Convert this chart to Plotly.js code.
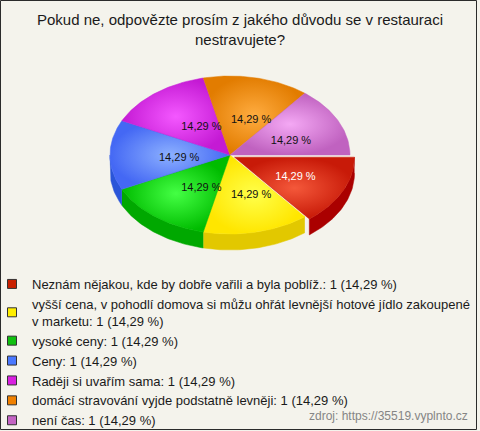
<!DOCTYPE html>
<html><head><meta charset="utf-8">
<script src="https://cdn.plot.ly/plotly-3.0.1.min.js"></script>
<style>html,body{margin:0;padding:0;background:#f4f3ec}</style>
</head><body><div id="chart" style="width:480px;height:431px"></div>
<script>
// ---- data ----
const labels = [
  "Neznám nějakou, kde by dobře vařili a byla poblíž.",
  "vyšší cena, v pohodlí domova si můžu ohřát levnější hotové jídlo zakoupené v marketu",
  "vysoké ceny",
  "Ceny",
  "Raději si uvařím sama",
  "domácí stravování vyjde podstatně levněji",
  "není čas"
];
const values = [1, 1, 1, 1, 1, 1, 1];
const titleText = "Pokud ne, odpovězte prosím z jakého důvodu se v restauraci<br>nestravujete?";
const sourceText = "zdroj: https://35519.vyplnto.cz";

// ---- styles ----
const topDark  = ["#c81a08", "#ffe600", "#00bc00", "#4468f4", "#c41ad4", "#e27c00", "#c062c0"];
const topLight = ["#f4583a", "#ffff4a", "#44ff44", "#8cb0ff", "#f458ff", "#ffac40", "#f4a8f4"];
const sideCols = ["#aa0000", "#e2c800", "#00a800", "#2a55d8", "#a010b0", "#b86000", "#9a4a9a"];
const legendCols = ["#c82000", "#ffee00", "#10c010", "#4a78ff", "#d820e0", "#f08000", "#c464c4"];
const labelTextCols = ["#ffffff", "#111", "#111", "#111", "#111", "#111", "#111"];
const explodePx = [5, 0, 0, 0, 0, 0, 0];

// ---- geometry (pixel-like axes) ----
const cx = 230, cy = 155, rx = 120, ry = 79, depth = 16;
const total = values.reduce((a, b) => a + b, 0);
const slices = [];
let acc = 0;
values.forEach((v, i) => {
  const a0 = acc / total * 2 * Math.PI;
  acc += v;
  const a1 = acc / total * 2 * Math.PI;
  const m = (a0 + a1) / 2;
  slices.push({a0, a1, m, dx: explodePx[i] * Math.cos(m), dy: explodePx[i] * Math.sin(m)});
});

function arc(a0, a1, ox, oy, shift) {
  const n = Math.max(2, Math.ceil((a1 - a0) / (Math.PI / 180)));
  const xs = [], ys = [];
  for (let k = 0; k <= n; k++) {
    const a = a0 + (a1 - a0) * k / n;
    xs.push(cx + ox + rx * Math.cos(a));
    ys.push(cy + oy + ry * Math.sin(a) + shift);
  }
  return {xs, ys};
}

const traces = [];
// side walls (front half only)
slices.forEach((s, i) => {
  const st = Math.max(s.a0, 0), en = Math.min(s.a1, Math.PI);
  if (en <= st) return;
  const t = arc(st, en, s.dx, s.dy, 0);
  const b = arc(st, en, s.dx, s.dy, depth);
  traces.push({
    type: "scatter", mode: "lines",
    x: t.xs.concat(b.xs.slice().reverse()), y: t.ys.concat(b.ys.slice().reverse()),
    fill: "toself", fillcolor: sideCols[i], line: {color: sideCols[i], width: 0.5},
    hoverinfo: "skip", showlegend: false
  });
});
// top faces
slices.forEach((s, i) => {
  const t = arc(s.a0, s.a1, s.dx, s.dy, 0);
  traces.push({
    type: "scatter", mode: "lines",
    x: [cx + s.dx].concat(t.xs, [cx + s.dx]), y: [cy + s.dy].concat(t.ys, [cy + s.dy]),
    fill: "toself", fillcolor: topDark[i],
    fillgradient: {type: "radial", colorscale: [[0, topLight[i]], [1, topDark[i]]]},
    line: {color: topDark[i], width: 0.5},
    hoverinfo: "skip", showlegend: false
  });
});
// percent labels
const pctText = values.map(v => (v / total * 100).toFixed(2).replace(".", ",") + " %");
traces.push({
  type: "scatter", mode: "text",
  x: slices.map(s => cx + s.dx + 0.49 * rx * Math.cos(s.m) + 8),
  y: slices.map(s => cy + s.dy + 0.49 * ry * Math.sin(s.m) + 3),
  text: pctText, textposition: "middle center",
  textfont: {size: 11, color: labelTextCols, family: "Liberation Sans, Arial, sans-serif"},
  hoverinfo: "skip", showlegend: false
});
// legend entries
function wrap(str, maxChars) {
  const words = str.split(" "); const lines = []; let cur = "";
  words.forEach(w => {
    if ((cur + " " + w).trim().length > maxChars && cur) { lines.push(cur); cur = w; }
    else cur = (cur + " " + w).trim();
  });
  lines.push(cur); return lines.join("<br>");
}
labels.forEach((lab, i) => {
  traces.push({
    type: "scatter", mode: "markers", x: [null], y: [null],
    name: wrap(lab + ": " + values[i] + " (" + pctText[i] + ")", 75),
    marker: {symbol: "square", size: 9, color: legendCols[i], line: {color: "#333", width: 1}},
    hoverinfo: "skip"
  });
});

const layout = {
  width: 480, height: 431,
  margin: {l: 0, r: 0, t: 0, b: 0, autoexpand: false},
  paper_bgcolor: "#f4f3ec", plot_bgcolor: "#f4f3ec",
  font: {family: "Liberation Sans, Arial, sans-serif", color: "#1a1a1a"},
  title: {
    text: titleText, x: 0.5, xanchor: "center", xref: "paper",
    y: 1 - 25 / 431, yref: "container", yanchor: "top",
    font: {size: 15, color: "#1a1a1a", family: "Liberation Sans, Arial, sans-serif"}
  },
  xaxis: {range: [0, 480], visible: false, fixedrange: true},
  yaxis: {range: [431, 0], visible: false, fixedrange: true},
  showlegend: true,
  legend: {
    x: -8 / 480, xanchor: "left", y: 1 - 269 / 431, yanchor: "top",
    font: {size: 13, color: "#1a1a1a"}, bgcolor: "rgba(0,0,0,0)",
    tracegroupgap: 0, itemclick: false, itemdoubleclick: false
  },
  annotations: [{
    text: sourceText, x: 470, y: 416, xref: "x", yref: "y",
    xanchor: "right", yanchor: "middle", showarrow: false,
    font: {size: 12, color: "#858585"}
  }],
  shapes: [{
    type: "rect", xref: "x", yref: "y", x0: 0.5, y0: 0.5, x1: 476.5, y1: 429.5,
    line: {color: "#2b2b2b", width: 1}, fillcolor: "rgba(0,0,0,0)", layer: "above"
  }]
};
Plotly.newPlot("chart", traces, layout, {displayModeBar: false, staticPlot: true});
</script></body></html>
